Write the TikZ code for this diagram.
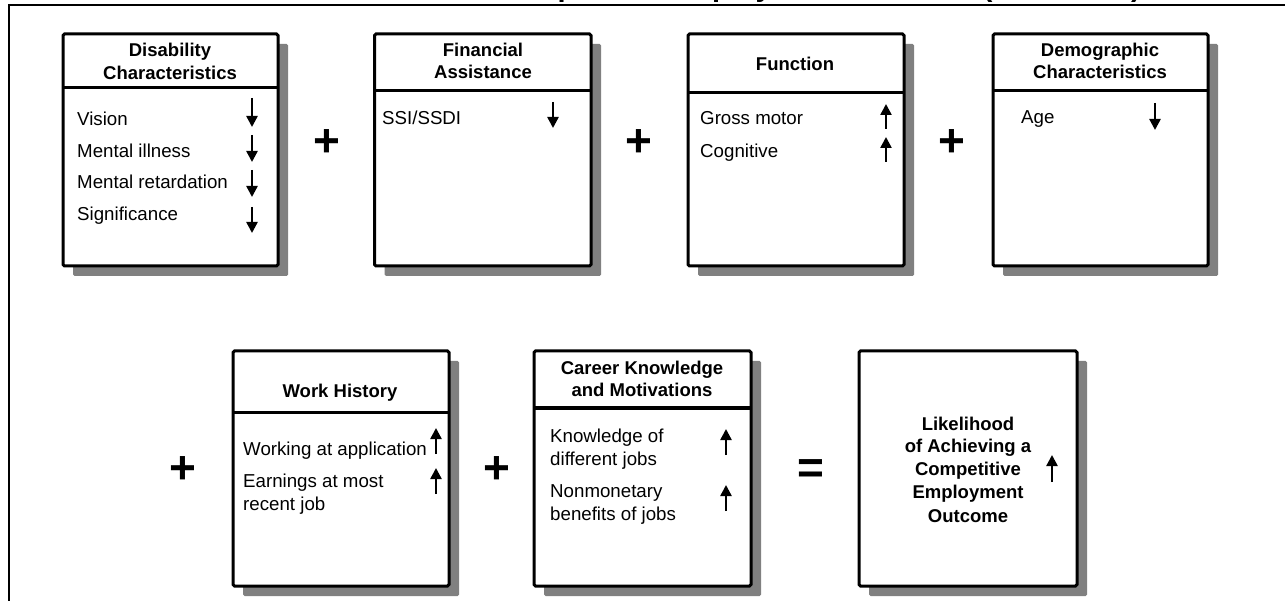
\documentclass[tikz,border=0pt]{standalone}
\usepackage{fontspec}
\setmainfont{Liberation Sans}
\usetikzlibrary{arrows.meta,shadows}
\definecolor{shadowgray}{RGB}{128,128,128}
\begin{document}
\begin{tikzpicture}[x=1pt,y=-1pt,
  factor/.style={draw=black, line width=3pt, fill=white, rounded corners=1.5pt,
    outer sep=0pt, inner sep=0pt,
    drop shadow={shadow xshift=10pt, shadow yshift=-10pt, fill=shadowgray, opacity=1}},
  divider/.style={line width=3pt},
  hdr/.style={font=\fontsize{18.5}{23}\selectfont\bfseries, inner sep=0pt, anchor=base},
  item/.style={font=\fontsize{18.7}{23}\selectfont, inner sep=0pt, anchor=base west},
  upind/.style={line width=2.4pt, -{Triangle[width=11pt,length=11pt]}},
  op/.style={font=\fontsize{46}{46}\selectfont\bfseries, inner sep=0pt},
  frame/.style={line width=1.5pt}
]
\useasboundingbox (0,0) rectangle (1285,601);
\fill[white] (0,0) rectangle (1285,601);

% cut-off title (only its descenders show, as in the reference)
\node[font=\fontsize{29}{29}\selectfont\bfseries, inner sep=0pt, anchor=base east] (title) at (1141,-3.5) {Competitive Employment Outcome (continued)};

% frame
\draw[frame] (9,601) -- (9,5) -- (1285,5);

% ---------- row 1 ----------
\node[factor, minimum width=215pt, minimum height=232pt] (dis) at (170.5,150) {};
\draw[divider] ([yshift=-54pt]dis.north west) -- ([yshift=-54pt]dis.north east);
\node[hdr] (dis-h1) at (170,57) {Disability};
\node[hdr] (dis-h2) at (170,80) {Characteristics};
\node[item] (dis-i1) at (77,126) {Vision};
\node[item] (dis-i2) at (77,158) {Mental illness};
\node[item] (dis-i3) at (77,189) {Mental retardation};
\node[item] (dis-i4) at (77,221) {Significance};
\draw[upind] (252,98) -- (252,127);
\draw[upind] (252,135) -- (252,162);
\draw[upind] (252,170) -- (252,197);
\draw[upind] (252,207) -- (252,233);

\node[op] (plus1) at (327,143) {+};

\node[factor, minimum width=216.5pt, minimum height=232pt] (fin) at (482.75,150) {};
\draw[divider] ([yshift=-57pt]fin.north west) -- ([yshift=-57pt]fin.north east);
\node[hdr] (fin-h1) at (483,57) {Financial};
\node[hdr] (fin-h2) at (483,79) {Assistance};
\node[item] (fin-i1) at (382,125) {SSI/SSDI};
\draw[upind] (553,102) -- (553,128);

\node[op] (plus2) at (639,143) {+};

\node[factor, minimum width=216pt, minimum height=232pt] (fun) at (796,150) {};
\draw[divider] ([yshift=-59pt]fun.north west) -- ([yshift=-59pt]fun.north east);
\node[hdr] (fun-h1) at (795,71) {Function};
\node[item] (fun-i1) at (700,125) {Gross motor};
\node[item] (fun-i2) at (700,158) {Cognitive};
\draw[upind] (886,129) -- (886,104);
\draw[upind] (886,162) -- (886,137);

\node[op] (plus3) at (952,143) {+};

\node[factor, minimum width=215pt, minimum height=232pt] (dem) at (1100.5,150) {};
\draw[divider] ([yshift=-57pt]dem.north west) -- ([yshift=-57pt]dem.north east);
\node[hdr] (dem-h1) at (1100,57) {Demographic};
\node[hdr] (dem-h2) at (1100,79) {Characteristics};
\node[item] (dem-i1) at (1021,124) {Age};
\draw[upind] (1155,103) -- (1155,130);

% ---------- row 2 ----------
\node[op] (plus4) at (183,470) {+};

\node[factor, minimum width=216pt, minimum height=235pt] (wh) at (341,468.5) {};
\draw[divider] ([yshift=-61pt]wh.north west) -- ([yshift=-61pt]wh.north east);
\node[hdr] (wh-h1) at (340,398) {Work History};
\node[item] (wh-i1) at (243,455) {Working at application};
\node[item] (wh-i2) at (243,487) {Earnings at most};
\node[item] (wh-i3) at (243,510) {recent job};
\draw[upind] (436,454) -- (436,428);
\draw[upind] (436,494) -- (436,468);

\node[op] (plus5) at (497,470) {+};

\node[factor, minimum width=217pt, minimum height=235pt] (ck) at (642.5,468.5) {};
\draw[divider] ([yshift=-57pt]ck.north west) -- ([yshift=-57pt]ck.north east);
\node[hdr] (ck-h1) at (642,374) {Career Knowledge};
\node[hdr] (ck-h2) at (642,397) {and Motivations};
\node[item] (ck-i1) at (550,442) {Knowledge of};
\node[item] (ck-i2) at (550,465) {different jobs};
\node[item] (ck-i3) at (550,497) {Nonmonetary};
\node[item] (ck-i4) at (550,520) {benefits of jobs};
\draw[upind] (726,455) -- (726,429);
\draw[upind] (726,511) -- (726,485);

\node[op] (eq) at (811,472) {=};

\node[factor, minimum width=218pt, minimum height=235pt] (out) at (968,468.5) {};
\node[hdr] (out-h1) at (968,430) {Likelihood};
\node[hdr] (out-h2) at (968,452) {of Achieving a};
\node[hdr] (out-h3) at (968,475) {Competitive};
\node[hdr] (out-h4) at (968,498) {Employment};
\node[hdr] (out-h5) at (968,522) {Outcome};
\draw[upind] (1052,482) -- (1052,455);
\end{tikzpicture}
\end{document}
